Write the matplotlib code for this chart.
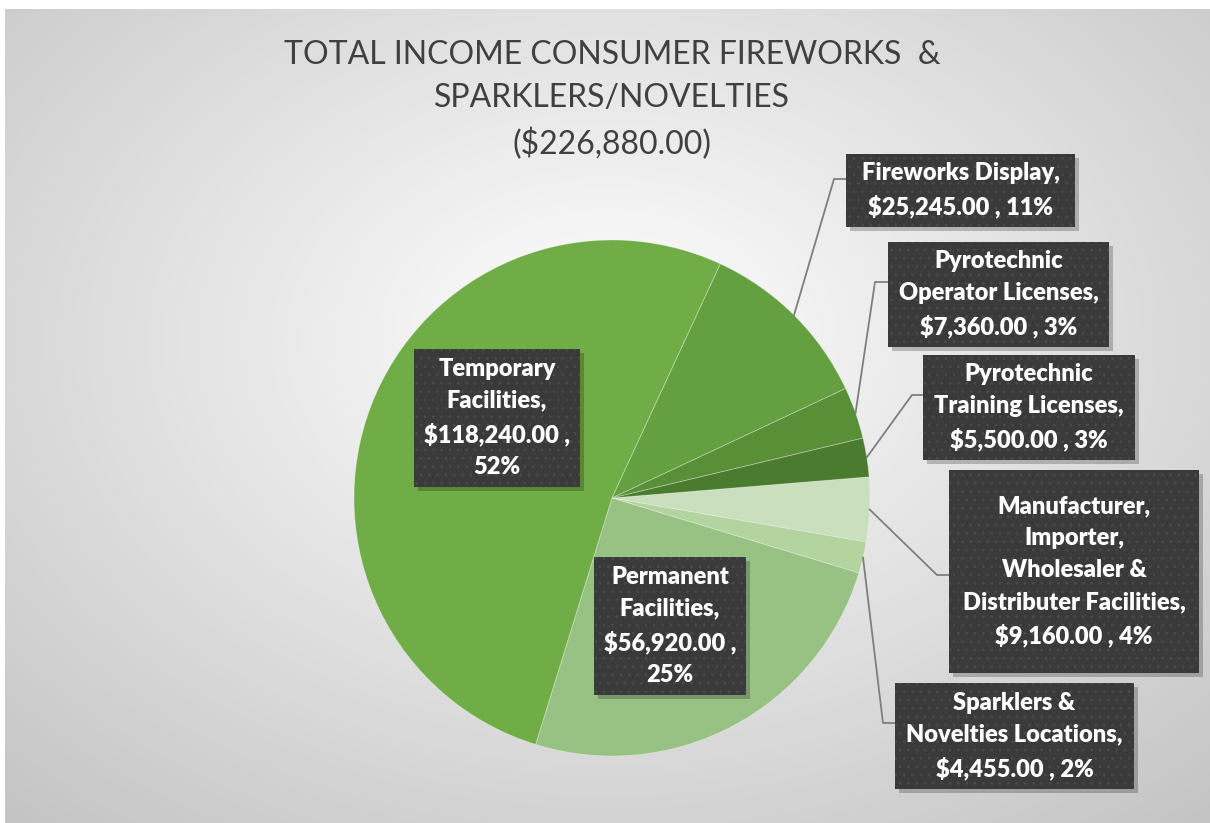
import matplotlib.pyplot as plt
import matplotlib.patches as mpatches
import numpy as np

W, H = 1210, 823
DPI = 100

# data (clockwise from the first slice)
categories = ["Manufacturer, Importer, Wholesaler & Distributer Facilities",
              "Sparklers & Novelties Locations",
              "Permanent Facilities",
              "Temporary Facilities",
              "Fireworks Display",
              "Pyrotechnic Operator Licenses",
              "Pyrotechnic Training Licenses"]
values = [9160.00, 4455.00, 56920.00, 118240.00, 25245.00, 7360.00, 5500.00]
pct_labels = [4, 2, 25, 52, 11, 3, 3]
label_names = ["Manufacturer,\nImporter,\nWholesaler &\nDistributer Facilities,",
               "Sparklers &\nNovelties Locations,",
               "Permanent\nFacilities,",
               "Temporary\nFacilities,",
               "Fireworks Display,",
               "Pyrotechnic\nOperator Licenses,",
               "Pyrotechnic\nTraining Licenses,"]
colors = ["#cadfbd", "#b3d39f", "#98c283", "#70ad47", "#64a03f", "#588f37", "#4b7b2e"]
title = "TOTAL INCOME CONSUMER FIREWORKS  &\nSPARKLERS/NOVELTIES\n($226,880.00)"

# label boxes in pixel coords: (left, top, right, bottom), elbow point or None
boxes = [(949, 470, 1199, 673), (895, 683, 1134, 789), (594, 557, 746, 695),
         (414, 349, 580, 487), (846, 154, 1075, 227), (888, 242, 1109, 347),
         (923, 355, 1135, 460)]
elbows = [(937, 575), (883, 723), None, None, (834, 179), (875, 282), (912, 395)]
# values on one line with the percent, or separate
joined = [True, True, False, False, True, True, True]

fig = plt.figure(figsize=(W / DPI, H / DPI), dpi=DPI)
ax = fig.add_axes([0, 0, 1, 1])

# background radial gradient
yy, xx = np.mgrid[0:H, 0:W]
d = np.sqrt(((xx - 607) / 605.0) ** 2 + ((yy - 340) / 430.0) ** 2)
v = 1 - 0.225 * np.clip(d, 0, 1.6) / 1.45
img = np.dstack([v, v, v])
img[:9, :, :] = 1
img[:, :5, :] = 1
ax.imshow(img, extent=(0, W, 0, H), origin="upper", zorder=0, interpolation="bilinear")


def py(y):
    return H - y


cx, cy, r = 612, py(498), 258
wedges, _ = ax.pie(values, colors=colors, startangle=4.7, counterclock=False,
                   center=(cx, cy), radius=r,
                   wedgeprops=dict(linewidth=0.6, edgecolor=(1, 1, 1, 0.35)))
ax.set_xlim(0, W)
ax.set_ylim(0, H)
ax.set_aspect("equal")
ax.axis("off")

plt.rcParams["hatch.linewidth"] = 0.8

for i, w in enumerate(wedges):
    l, t, rr, b = boxes[i]
    val = f"${values[i]:,.2f}"
    if joined[i]:
        txt = f"{label_names[i]}\n{val} , {pct_labels[i]}%"
    else:
        txt = f"{label_names[i]}\n{val} ,\n{pct_labels[i]}%"
    # shadow
    ax.add_patch(mpatches.Rectangle((l + 4, py(b) - 4), rr - l, b - t, facecolor="#000000",
                                    alpha=0.22, edgecolor="none", zorder=3))
    ax.add_patch(mpatches.Rectangle((l, py(b)), rr - l, b - t, facecolor="#3a3a3a",
                                    edgecolor="#4a4a4a", linewidth=0, hatch="..", zorder=4))
    ax.text((l + rr) / 2, py((t + b) / 2), txt, ha="center", va="center", color="white",
            fontsize=17, fontweight="heavy", family="Lato", linespacing=1.55, zorder=5)
    if elbows[i] is not None:
        ang = np.deg2rad((w.theta1 + w.theta2) / 2)
        px, pyy = cx + r * np.cos(ang), cy + r * np.sin(ang)
        ex, ey = elbows[i]
        ax.plot([px, ex, l], [pyy, py(ey), py(ey)], color="#7f7f7f", linewidth=1.3, zorder=2)

ax.text(612, py(100), title, ha="center", va="center", color="#404040", fontsize=23,
        family="Lato", fontweight="normal", linespacing=1.55, zorder=5)

fig.savefig("out.png", dpi=DPI)
